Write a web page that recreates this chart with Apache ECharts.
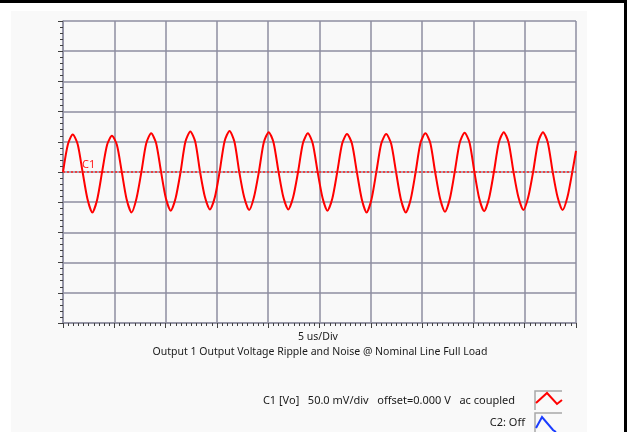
<!DOCTYPE html>
<html>
<head>
<meta charset="utf-8">
<script src="https://cdn.jsdelivr.net/npm/echarts@6/dist/echarts.min.js"></script>
<style>
html,body{margin:0;padding:0;background:#ffffff;}
#chart{width:627px;height:432px;}
</style>
</head>
<body>
<div id="chart"></div>
<script>
// time in microseconds (5 us/div, 10 divisions)
var timeUs = [0.00,0.48,0.95,1.43,1.91,2.39,2.86,3.34,3.82,4.30,4.77,5.25,5.73,6.20,6.68,7.16,7.64,8.11,8.59,9.07,9.55,10.02,10.50,10.98,11.46,11.93,12.41,12.89,13.36,13.84,14.32,14.80,15.27,15.75,16.23,16.71,17.18,17.66,18.14,18.61,19.09,19.57,20.05,20.52,21.00,21.48,21.96,22.43,22.91,23.39,23.87,24.34,24.82,25.30,25.77,26.25,26.73,27.21,27.68,28.16,28.64,29.12,29.59,30.07,30.55,31.02,31.50,31.98,32.46,32.93,33.41,33.89,34.37,34.84,35.32,35.80,36.27,36.75,37.23,37.71,38.18,38.66,39.14,39.62,40.09,40.57,41.05,41.53,42.00,42.48,42.96,43.43,43.91,44.39,44.87,45.34,45.82,46.30,46.78,47.25,47.73,48.21,48.69,49.16,49.64,50.00];
// C1 ripple voltage in mV (50 mV/div)
var c1mV = [
  0, 46, 62, 46, 0, -45, -67, -45,
  1, 45, 60, 45, 0, -45, -67, -44,
  0, 47, 64, 48, 1, -43, -64, -43,
  0, 50, 67, 50, 0, -42, -62, -42,
  1, 51, 68, 50, 0, -42, -63, -42,
  0, 49, 66, 49, 1, -42, -62, -42,
  0, 48, 64, 47, 0, -43, -64, -44,
  0, 47, 63, 47, 0, -45, -67, -45,
  1, 47, 63, 47, 0, -45, -67, -45,
  0, 48, 64, 48, 0, -44, -66, -44,
  0, 48, 65, 49, 1, -44, -65, -43,
  0, 49, 66, 49, 0, -42, -63, -42,
  0, 49, 66, 49, 0, -42, -63, -42,
  0, 35
];
var xLabel = "5 us/Div";
var titleText = "Output 1 Output Voltage Ripple and Noise @ Nominal Line Full Load";
var c1Info = "C1 [Vo]   50.0 mV/div   offset=0.000 V   ac coupled";
var c2Info = "C2: Off";
var channelLabel = "C1";

var seriesData = timeUs.map(function (t, i) { return [t, c1mV[i]]; });

var FONT = "Noto Sans";
var gridColor = "#8e8ea0";
var tickColor = "#404040";

var chart = echarts.init(document.getElementById('chart'), null, {renderer: 'canvas'});
chart.setOption({
  backgroundColor: '#ffffff',
  animation: false,
  grid: {left: 63, top: 21, width: 513, height: 302, containLabel: false},
  xAxis: {
    type: 'value', min: 0, max: 50, interval: 5,
    axisLine: {show: true, onZero: false, lineStyle: {color: gridColor, width: 1.5}},
    axisTick: {show: true, length: 5, lineStyle: {color: tickColor, width: 1}},
    minorTick: {show: true, splitNumber: 10, length: 3, lineStyle: {color: tickColor, width: 1}},
    axisLabel: {show: false},
    splitLine: {show: true, lineStyle: {color: gridColor, width: 1.5}}
  },
  yAxis: {
    type: 'value', min: -250, max: 250, interval: 50,
    axisLine: {show: true, onZero: false, lineStyle: {color: gridColor, width: 1.5}},
    axisTick: {show: true, length: 5, lineStyle: {color: tickColor, width: 1}},
    minorTick: {show: true, splitNumber: 5, length: 3, lineStyle: {color: tickColor, width: 1}},
    axisLabel: {show: false},
    splitLine: {show: true, lineStyle: {color: gridColor, width: 1.5}}
  },
  series: [{
    type: 'line',
    data: seriesData,
    showSymbol: false,
    smooth: 0.25,
    lineStyle: {color: '#ff0000', width: 2},
    z: 3,
    markLine: {
      silent: true,
      symbol: ['none', 'none'],
      lineStyle: {color: '#ff2020', type: [2, 2], width: 1.5},
      label: {show: false},
      data: [{yAxis: 0}]
    }
  }],
  graphic: [
    {type: 'rect', z: -100, shape: {x: 11, y: 11, width: 576, height: 421}, style: {fill: '#f9f9f9'}},
    {type: 'rect', z: 100, shape: {x: 0, y: 0, width: 627, height: 3}, style: {fill: '#000000'}},
    {type: 'rect', z: 100, shape: {x: 624, y: 0, width: 3, height: 432}, style: {fill: '#000000'}},
    {type: 'text', z: 100, x: 82, y: 165, style: {text: channelLabel, fill: '#ff2020', font: '11px "' + FONT + '"', verticalAlign: 'middle'}},
    {type: 'text', z: 100, x: 318, y: 337, style: {text: xLabel, fill: '#1a1a1a', font: '10.5px "' + FONT + '"', align: 'center', verticalAlign: 'middle'}},
    {type: 'text', z: 100, x: 320, y: 352, style: {text: titleText, fill: '#1a1a1a', font: '10.5px "' + FONT + '"', align: 'center', verticalAlign: 'middle'}},
    {type: 'text', z: 100, x: 515, y: 401, style: {text: c1Info, fill: '#1a1a1a', font: '11px "' + FONT + '"', align: 'right', verticalAlign: 'middle'}},
    {type: 'text', z: 100, x: 525, y: 423, style: {text: c2Info, fill: '#1a1a1a', font: '11px "' + FONT + '"', align: 'right', verticalAlign: 'middle'}},
    {type: 'polyline', z: 100, shape: {points: [[535, 410], [535, 391], [562, 391]]}, style: {stroke: '#a8a8a8', lineWidth: 1.5, fill: null}},
    {type: 'polyline', z: 100, shape: {points: [[536, 403], [547, 393], [557, 404], [562, 400]]}, style: {stroke: '#ff0000', lineWidth: 2, fill: null}},
    {type: 'polyline', z: 100, shape: {points: [[535, 432], [535, 413], [562, 413]]}, style: {stroke: '#a8a8a8', lineWidth: 1.5, fill: null}},
    {type: 'polyline', z: 100, shape: {points: [[536, 428], [542, 417], [553, 430], [556, 432]]}, style: {stroke: '#1a3cff', lineWidth: 2, fill: null}}
  ]
});
</script>
</body>
</html>
